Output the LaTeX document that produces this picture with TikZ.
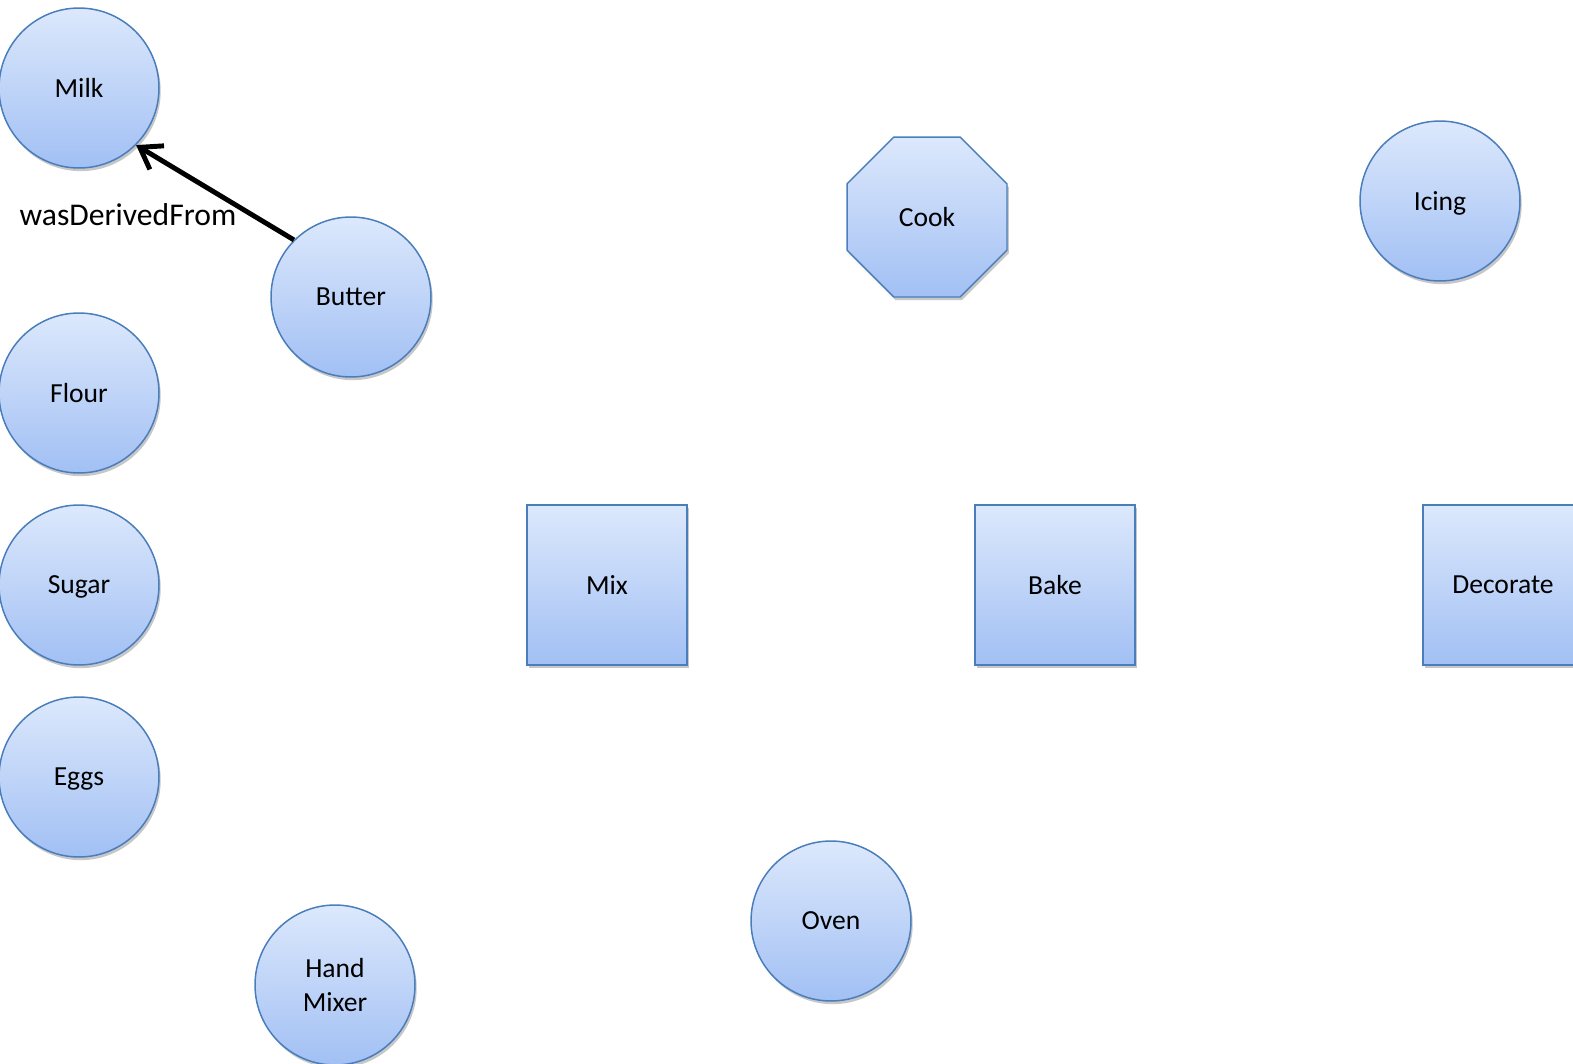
\documentclass[tikz,border=0pt]{standalone}
\usepackage{fontspec}
\setmainfont{Carlito}
\usepackage{tikz}
\usetikzlibrary{positioning,arrows.meta,shapes.geometric,shadows}
\definecolor{provArriba}{HTML}{DCE8FC}
\definecolor{provAbajo}{HTML}{A2C0F4}
\definecolor{provBorde}{HTML}{4A7EBB}

\tikzset{
  provbase/.style={draw=provBorde,line width=0.85pt,top color=provArriba,bottom color=provAbajo,
    inner sep=0pt,font=\fontsize{15.7}{19}\selectfont,align=center,text depth=0pt,
    general shadow={fill=black,opacity=0.22,shadow xshift=1pt,shadow yshift=-1.8pt}},
  entidad/.style={provbase,circle,minimum size=3.2cm},
  actividad/.style={provbase,rectangle,minimum size=3.2cm},
  agente/.style={provbase,regular polygon,regular polygon sides=8,minimum size=3.464cm}
}

\begin{document}
\begin{tikzpicture}[x=0.02cm,y=-0.02cm]
        \useasboundingbox (0,0) rectangle (1573,1063);
        \clip (0,0) rectangle (1573,1063);
        % entidades (circulos)
        \foreach \n/\x/\y/\t in {milk/79/88/Milk,butter/351/297/Butter,flour/79/393/Flour,
            sugar/79/585/Sugar,eggs/79/777/Eggs,mixer/335/985/Hand\\Mixer,
            oven/831/921/Oven,icing/1440/201/Icing}
          {\node[entidad] (\n) at (\x,\y) {\t};}
        % actividades (cuadrados)
        \foreach \n/\x/\t in {mix/607/Mix,bake/1055/Bake,decorate/1503/Decorate}
          {\node[actividad] (\n) at (\x,585) {\t};}
        \node[agente] (cook) at (927,217) {Cook};
        % derivacion
        \draw[line width=2.8pt,-{Straight Barb[length=4mm,width=5.5mm]}] (butter.135) -- (milk.-45);
        \node[font=\fontsize{18}{21.6}\selectfont] (derived) at (128,215) {wasDerivedFrom};
      \end{tikzpicture}
\end{document}
